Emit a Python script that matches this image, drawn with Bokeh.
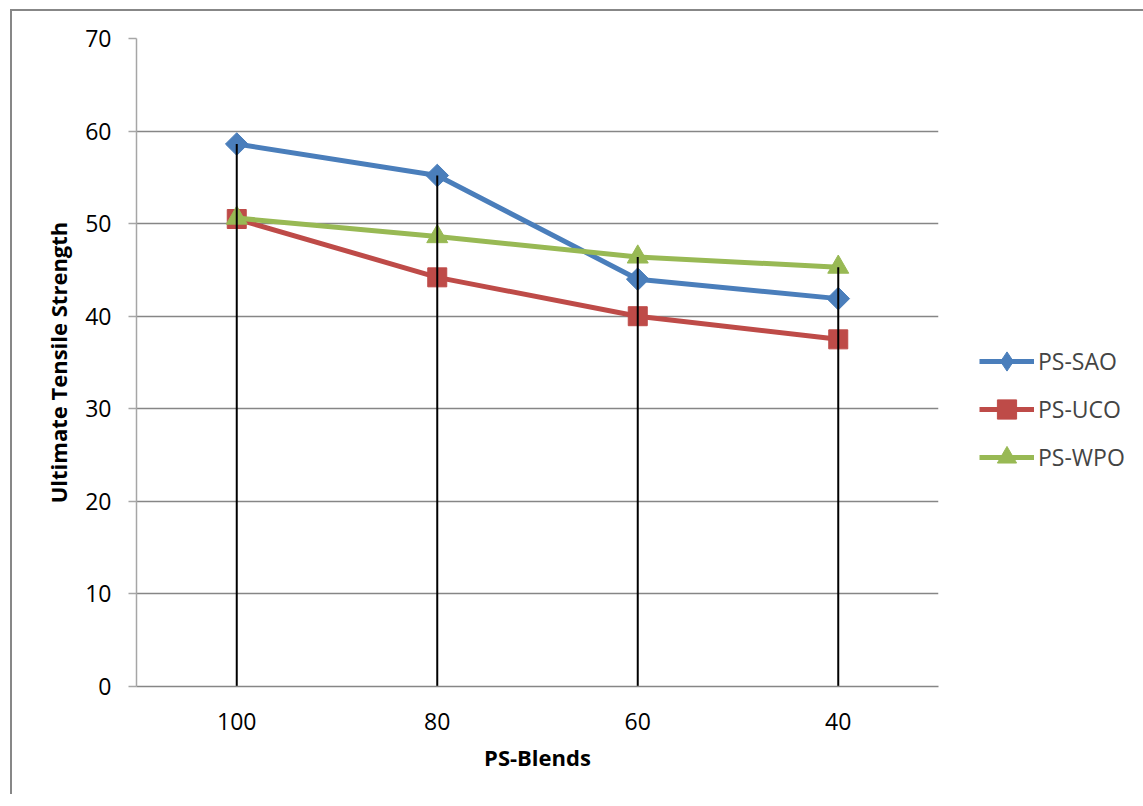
import math
from bokeh.plotting import figure
from bokeh.models import Legend, LegendItem, ColumnDataSource
from bokeh.embed import file_html
from bokeh.resources import INLINE

blends = ["100", "80", "60", "40"]
ps_sao = [58.6, 55.2, 44.0, 41.9]
ps_uco = [50.5, 44.2, 40.0, 37.5]
ps_wpo = [50.6, 48.6, 46.4, 45.3]
y_ticks = [0, 10, 20, 30, 40, 50, 60, 70]

FONT = "Open Sans"
BLUE = "#4A7EBB"
RED = "#BE4B48"
GREEN = "#98B954"

p = figure(frame_width=802, frame_height=648, x_range=blends, y_range=(0, 70),
           output_backend="svg", toolbar_location=None,
           min_border_left=124, min_border_right=0,
           min_border_top=27, min_border_bottom=108)
p.margin = (9, 0, 0, 10)
p.styles = {"border-left": "2px solid #878787", "border-top": "2px solid #878787"}
p.x_range.range_padding = 0
p.outline_line_color = None
p.background_fill_color = "white"
p.border_fill_color = "white"

p.xgrid.grid_line_color = None
p.ygrid.grid_line_color = "#868686"
p.ygrid.grid_line_width = 1.5
p.yaxis.ticker = y_ticks

p.yaxis.axis_line_color = "#A6A6A6"
p.yaxis.axis_line_width = 1.5
p.yaxis.major_tick_line_color = "#A6A6A6"
p.yaxis.major_tick_line_width = 1.5
p.yaxis.major_tick_out = 8
p.yaxis.major_tick_in = 0
p.yaxis.minor_tick_line_color = None
p.yaxis.major_label_standoff = 17

p.xaxis.axis_line_color = "#868686"
p.xaxis.axis_line_width = 1.5
p.xaxis.major_tick_line_color = None
p.xaxis.minor_tick_line_color = None
p.xaxis.major_label_standoff = 20

for ax in (p.xaxis, p.yaxis):
    ax.major_label_text_font = FONT
    ax.major_label_text_font_size = "23px"
    ax.major_label_text_color = "black"
    ax.axis_label_text_font = FONT
    ax.axis_label_text_font_size = "22px"
    ax.axis_label_text_font_style = "bold"
    ax.axis_label_text_color = "black"

p.xaxis.axis_label = "PS-Blends"
p.yaxis.axis_label = "Ultimate Tensile Strength"
p.xaxis.axis_label_standoff = 9
p.yaxis.axis_label_standoff = 9

src = ColumnDataSource(dict(x=blends, sao=ps_sao, uco=ps_uco, wpo=ps_wpo,
                            top=[max(a, b, c) for a, b, c in zip(ps_sao, ps_uco, ps_wpo)],
                            zero=[0] * len(blends)))

l1 = p.line("x", "sao", source=src, line_color=BLUE, line_width=5)
m1 = p.scatter("x", "sao", source=src, marker="square", angle=math.pi / 4, size=16,
               fill_color=BLUE, line_color=BLUE)
# legend-only diamond (hidden in plot)
m1_leg = p.scatter("x", "sao", source=src, marker="diamond", size=22,
                   fill_color=BLUE, line_color=BLUE, visible=False)
l2 = p.line("x", "uco", source=src, line_color=RED, line_width=5)
m2 = p.scatter("x", "uco", source=src, marker="square", size=19, fill_color=RED, line_color=RED)
l3 = p.line("x", "wpo", source=src, line_color=GREEN, line_width=5)
m3 = p.scatter("x", "wpo", source=src, marker="triangle", size=21, fill_color=GREEN, line_color=GREEN)

# drop lines
p.segment(x0="x", y0="zero", x1="x", y1="top", source=src, line_color="black", line_width=2)

legend = Legend(items=[LegendItem(label="PS-SAO", renderers=[l1, m1_leg]),
                       LegendItem(label="PS-UCO", renderers=[l2, m2]),
                       LegendItem(label="PS-WPO", renderers=[l3, m3])],
                location=(41, 205))
legend.border_line_color = None
legend.background_fill_alpha = 0
legend.padding = 0
legend.margin = 0
legend.glyph_width = 55
legend.glyph_height = 48
legend.spacing = 0
legend.label_standoff = 4
legend.label_text_font = FONT
legend.label_text_font_size = "23px"
legend.label_height = 48
p.add_layout(legend, "right")

open("out.html", "w").write(file_html(p, INLINE))
